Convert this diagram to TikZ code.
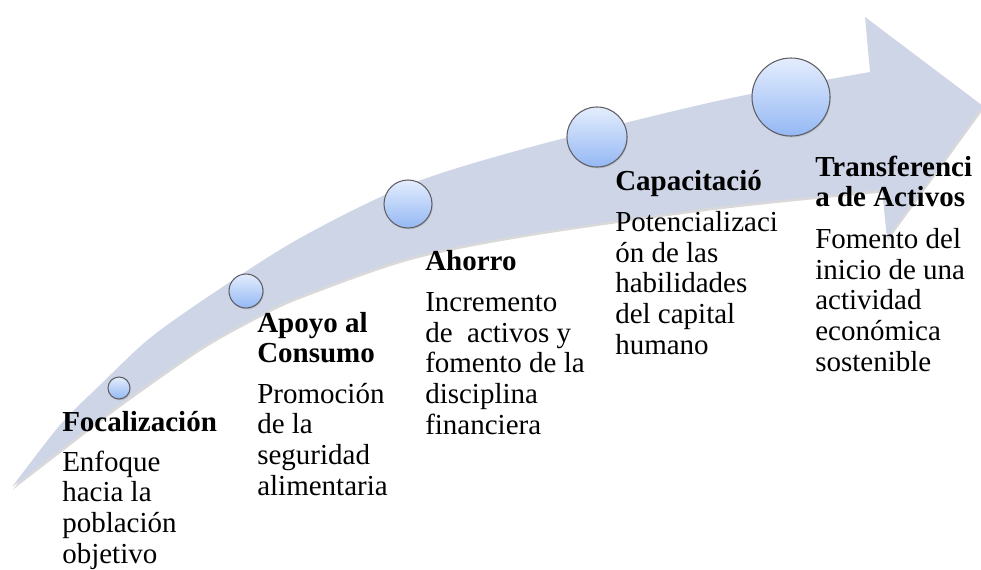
\documentclass[tikz,border=0pt]{standalone}
\usepackage{fontspec}
\setmainfont{Liberation Serif}
\usetikzlibrary{shadows}
\definecolor{bandfill}{RGB}{206,213,230}
\definecolor{dottop}{RGB}{228,237,253}
\definecolor{dotbottom}{RGB}{148,184,244}
\definecolor{dotline}{RGB}{95,95,100}
\begin{document}
\begin{tikzpicture}[x=0.75pt,y=-0.75pt,
	dot/.style={circle, draw=dotline, line width=0.8pt, top color=dottop, bottom color=dotbottom, inner sep=0pt,
		drop shadow={opacity=0.3, shadow xshift=0.6pt, shadow yshift=-1pt}},
	title/.style={anchor=base west, inner sep=0pt, align=left, font=\fontsize{21.75}{22.5}\selectfont\bfseries},
	body/.style={anchor=base west, inner sep=0pt, align=left, font=\fontsize{21.75}{22.9}\selectfont}]
	\useasboundingbox (0,0) rectangle (981,569);
	% band with its arrow head
	\fill[black, opacity=0.15, shift={(1,2.5)}] plot[smooth, tension=0.5] coordinates {(12,487) (60,425) (100,385) (150,338) (215,292) (300,238) (408,185) (527,148) (717,101) (870,72)} -- (865,17) -- (983,106) -- (887,238) -- (882,190) -- plot[smooth, tension=0.5] coordinates {(882,190) (717,207) (527,234) (408,258) (300,296) (257,316) (200,348) (120,404) (60,450) (12,487)} -- cycle;
	\fill[bandfill] plot[smooth, tension=0.5] coordinates {(12,487) (60,425) (100,385) (150,338) (215,292) (300,238) (408,185) (527,148) (717,101) (870,72)} -- (865,17) -- (983,106) -- (887,238) -- (882,190) -- plot[smooth, tension=0.5] coordinates {(882,190) (717,207) (527,234) (408,258) (300,296) (257,316) (200,348) (120,404) (60,450) (12,487)} -- cycle;
	% steps
	\node[dot, minimum size=16.5pt] (focal) at (119,388) {};
	\node[dot, minimum size=25.5pt] (apoyo) at (246,291) {};
	\node[dot, minimum size=36pt] (ahorro) at (408,204) {};
	\node[dot, minimum size=45pt] (capac) at (597,137) {};
	\node[dot, minimum size=58.5pt] (transf) at (791,97) {};
	% texts (base = last line)
	\node[title] (focalt) at (62,431) {Focalización};
	\node[body] (focalb) at (62,563) {Enfoque\\hacia la\\población\\objetivo};
	\node[title] (apoyot) at (257,362) {Apoyo al\\Consumo};
	\node[body] (apoyob) at (257,495) {Promoción\\de la\\seguridad\\alimentaria};
	\node[title] (ahorrot) at (425,270) {Ahorro};
	\node[body] (ahorrob) at (425,434) {Incremento\\de\ \ activos y\\fomento de la\\disciplina\\financiera};
	\node[title] (capact) at (615,190) {Capacitació};
	\node[body] (capacb) at (615,354) {Potencializaci\\ón de las\\habilidades\\del capital\\humano};
	\node[title] (transft) at (815,206) {Transferenci\\a de Activos};
	\node[body] (transfb) at (815,371) {Fomento del\\inicio de una\\actividad\\económica\\sostenible};
\end{tikzpicture}
\end{document}
